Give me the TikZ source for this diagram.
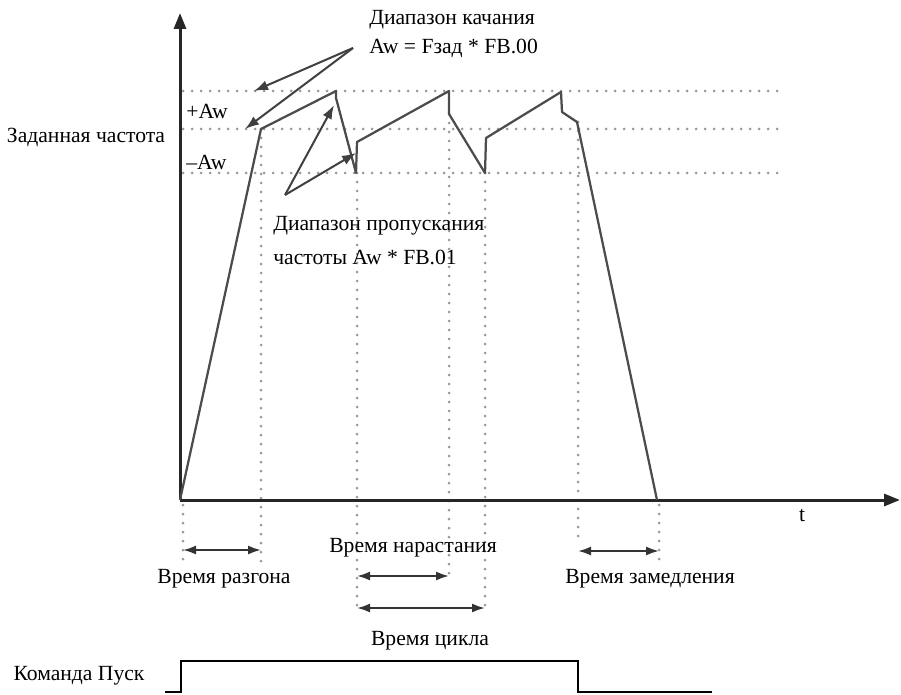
\documentclass[tikz,border=0pt]{standalone}
\usepackage{fontspec}
\setmainfont{Liberation Serif}
\usetikzlibrary{arrows.meta}

\begin{document}
\begin{tikzpicture}[x=0.2mm,y=-0.2mm,
  lbl/.style={font=\fontsize{12.3}{14}\selectfont,inner sep=0pt},
  dotline/.style={black!40,line width=0.6mm,line cap=round,dash pattern=on 0pt off 1.8mm},
  axisline/.style={black!85,line width=0.6mm},
  wave/.style={black!70,line width=0.45mm,line join=round},
  pointer/.style={black!75,line width=0.4mm,-{Latex[length=2.8mm,width=2mm]}},
  span/.style={black!80,line width=0.4mm,{Latex[length=2.6mm,width=1.8mm]}-{Latex[length=2.6mm,width=1.8mm]}}]
  \useasboundingbox (0,0) rectangle (901,694);
  % the three frequency levels, dotted
  \draw[dotline] (183,91) -- (782,91);
  \draw[dotline] (183,129) -- (782,129);
  \draw[dotline] (183,173) -- (782,173);
  % the time marks, dotted
  \draw[dotline] (183,505) -- (183,563);
  \draw[dotline] (261,129) -- (261,563);
  \draw[dotline] (357,173) -- (357,613);
  \draw[dotline] (449,114) -- (449,577);
  \draw[dotline] (485,173) -- (485,613);
  \draw[dotline] (578,122) -- (578,543);
  \draw[dotline] (659,505) -- (659,560);
  % the axes
  \coordinate (o) at (180,500);
  \coordinate (ytop) at (180,13);
  \coordinate (xend) at (900,500);
  \draw[axisline,-{Triangle[length=3.2mm,width=2.4mm]}] (o) -- (ytop);
  \draw[axisline,-{Triangle[length=3.2mm,width=2.4mm]}] (o) -- (xend);
  % the output frequency
  \draw[wave] (o) -- (261,129) -- (336,91) -- (336,98) -- (356,173) -- (357,142)
    -- (449,91) -- (449,114) -- (485,173) -- (486,138) -- (561,92) -- (562,112)
    -- (577,122) -- (657,500);
  % the two callouts
  \coordinate (swing) at (353,48);
  \coordinate (swingA) at (254,91);
  \coordinate (swingB) at (245,129);
  \coordinate (jump) at (285,195);
  \coordinate (jumpA) at (334,105);
  \coordinate (jumpB) at (356,153);
  \draw[pointer] (swing) -- (swingA);
  \draw[pointer] (swing) -- (swingB);
  \draw[pointer] (jump) -- (jumpA);
  \draw[pointer] (jump) -- (jumpB);
  \node[lbl,anchor=west] (swingT1) at (369,20) {Диапазон качания};
  \node[lbl,anchor=west] (swingT2) at (369,48) {Aw = Fзад * FB.00};
  \node[lbl,anchor=west] (jumpT1) at (273,226) {Диапазон пропускания};
  \node[lbl,anchor=west] (jumpT2) at (273,257) {частоты Aw * FB.01};
  \node[lbl,anchor=west] (plus) at (186,111) {+Aw};
  \node[lbl,anchor=west] (minus) at (186,162) {--Aw};
  \node[lbl] (fset) at (86,137) {Заданная частота};
  \node[lbl] (tlab) at (802,516) {t};
  % the time spans
  \coordinate (accA) at (183,550);
  \coordinate (accB) at (261,550);
  \coordinate (riseA) at (357,576);
  \coordinate (riseB) at (449,576);
  \coordinate (cycA) at (357,608);
  \coordinate (cycB) at (485,608);
  \coordinate (decA) at (578,551);
  \coordinate (decB) at (659,551);
  \draw[span] (accA) -- (accB);
  \draw[span] (riseA) -- (riseB);
  \draw[span] (cycA) -- (cycB);
  \draw[span] (decA) -- (decB);
  \node[lbl] (acc) at (224,579) {Время разгона};
  \node[lbl] (rise) at (413,548) {Время нарастания};
  \node[lbl] (dec) at (650,579) {Время замедления};
  \node[lbl] (cyc) at (430,641) {Время цикла};
  % the run command
  \node[lbl] (run) at (79,676) {Команда Пуск};
  \draw[black,line width=0.5mm] (165,692) -- (181,692) -- (181,661) -- (578,661)
    -- (578,692) -- (712,692);
\end{tikzpicture}
\end{document}
